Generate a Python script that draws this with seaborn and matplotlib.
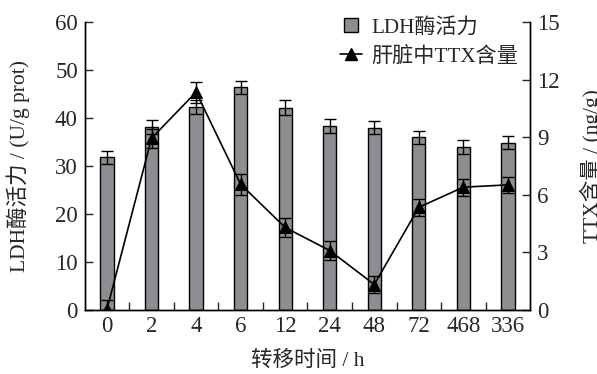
import numpy as np
import pandas as pd
import matplotlib
matplotlib.use("Agg")
import matplotlib.pyplot as plt
from matplotlib.lines import Line2D
from matplotlib.ticker import FixedLocator
import seaborn as sns

# Transfer time points (h), LDH activity and liver TTX content
time_labels = ["0", "2", "4", "6", "12", "24", "48", "72", "468", "336"]
ldh_activity = [31.8, 38.1, 42.3, 46.4, 42.2, 38.4, 38.0, 36.0, 34.0, 34.9]
ldh_err = [1.4, 1.4, 1.5, 1.4, 1.5, 1.5, 1.4, 1.4, 1.5, 1.4]
ttx_content = [0.05, 8.95, 11.35, 6.55, 4.3, 3.1, 1.33, 5.35, 6.4, 6.52]
ttx_err = [0.45, 0.5, 0.55, 0.55, 0.5, 0.5, 0.45, 0.45, 0.45, 0.4]

sns.set_style("ticks")
plt.rcParams["font.family"] = ["Liberation Serif", "Noto Sans CJK SC"]
plt.rcParams["font.size"] = 16

df = pd.DataFrame({"time": time_labels, "ldh": ldh_activity, "ttx": ttx_content})
pos = np.arange(len(time_labels))

fig = plt.figure(figsize=(5.97, 3.74), dpi=100)
ax = fig.add_axes([0.142, 0.171, 0.746, 0.770])

bar_color = "#8e8e92"
sns.barplot(data=df, x="time", y="ldh", ax=ax, color=bar_color, width=0.3,
            edgecolor="black", linewidth=1.0, saturation=1)
ax.errorbar(pos, ldh_activity, yerr=ldh_err, fmt="none", ecolor="black",
            elinewidth=1.0, capsize=4, capthick=1.0, zorder=5)

ax2 = ax.twinx()
sns.lineplot(data=df, x=pos, y="ttx", ax=ax2, color="black", linewidth=1.2,
             marker="^", markersize=9, markeredgecolor="black", legend=False)
ax2.errorbar(pos, ttx_content, yerr=ttx_err, fmt="none", ecolor="black",
             elinewidth=1.0, capsize=4, capthick=1.0, zorder=6)

ax.set_xlim(-0.5, len(time_labels) - 0.5)
ax.set_ylim(0, 60)
ax.set_yticks([0, 10, 20, 30, 40, 50, 60])
ax2.set_ylim(0, 15)
ax2.set_yticks([0, 3, 6, 9, 12, 15])
ax2.set_xlim(-0.5, len(time_labels) - 0.5)

ax.set_xticks(pos)
ax.set_xticklabels(time_labels)
ax.xaxis.set_minor_locator(FixedLocator(pos[:-1] + 0.5))
ax.tick_params(axis="x", which="major", length=0, pad=4, labelsize=16.5)
ax.tick_params(axis="x", which="minor", direction="in", length=6, width=1.0)
ax.tick_params(axis="y", direction="in", length=6, width=1.0, labelsize=16.5, pad=5)
ax2.tick_params(axis="y", direction="in", length=6, width=1.0, labelsize=16.5, pad=5)

for a in (ax, ax2):
    a.spines["top"].set_visible(False)
    for s in ("left", "right", "bottom"):
        a.spines[s].set_color("black")
        a.spines[s].set_linewidth(1.0)

ax.set_xlabel("转移时间 / h", fontsize=15.5, labelpad=10)
ax.set_ylabel("LDH酶活力 / (U/g prot)", fontsize=15.5)
ax.yaxis.set_label_coords(-0.124, 0.5)
ax2.set_ylabel("TTX含量 / (ng/g)", fontsize=15.5)
ax2.yaxis.set_label_coords(1.112, 0.5)

handles = [
    Line2D([], [], linestyle="none", marker="s", markersize=10,
           markerfacecolor=bar_color, markeredgecolor="black", markeredgewidth=1.0),
    Line2D([], [], color="black", linewidth=1.2, marker="^", markersize=9),
]
fig.legend(handles, ["LDH酶活力", "肝脏中TTX含量"], loc="upper left",
           bbox_to_anchor=(0.570, 0.953), frameon=False, fontsize=15.2,
           handlelength=1.05, handletextpad=0.4, labelspacing=0.4,
           borderaxespad=0, borderpad=0)

fig.savefig("out.png", dpi=100)
